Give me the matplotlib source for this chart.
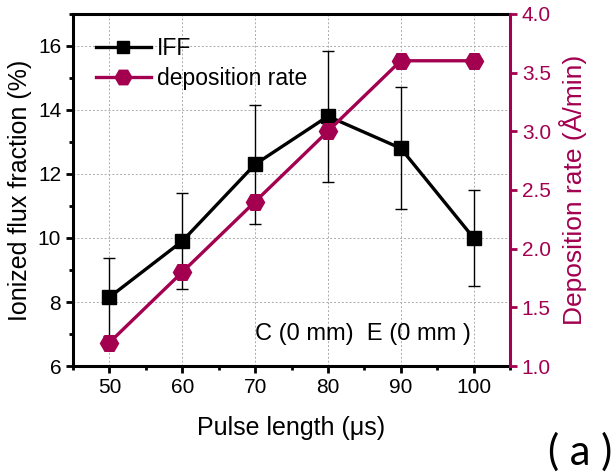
import matplotlib.pyplot as plt
from matplotlib.lines import Line2D
from matplotlib.ticker import MultipleLocator

plt.rcParams['font.family'] = ['Liberation Sans', 'DejaVu Sans']

pulse = [50, 60, 70, 80, 90, 100]
iff = [8.15, 9.9, 12.3, 13.8, 12.8, 10.0]
iff_err = [1.22, 1.5, 1.85, 2.05, 1.9, 1.5]
dep_rate = [1.2, 1.8, 2.4, 3.0, 3.6, 3.6]

crimson = '#A3004F'

fig = plt.figure(figsize=(6.16, 4.76), dpi=100)
ax = fig.add_axes([0.1185, 0.231, 0.7095, 0.74])
ax2 = ax.twinx()

ax.errorbar(pulse, iff, yerr=iff_err, color='black', lw=2.4, marker='s', ms=10,
            elinewidth=1.0, capsize=4, capthick=1.0, zorder=3)
ax2.plot(pulse, dep_rate, color=crimson, lw=2.4, marker='H', ms=13, zorder=2)

ax.set_xlim(45, 105)
ax.set_ylim(6, 17)
ax2.set_ylim(1.0, 4.0)
ax.xaxis.set_major_locator(MultipleLocator(10))
ax.xaxis.set_minor_locator(MultipleLocator(5))
ax.yaxis.set_major_locator(MultipleLocator(2))
ax.yaxis.set_minor_locator(MultipleLocator(1))
ax2.yaxis.set_major_locator(MultipleLocator(0.5))

ax.grid(True, which='major', ls=(0, (2, 2)), lw=0.7, color='#aaaaaa')
ax.set_axisbelow(True)

for s in ['left', 'bottom', 'top']:
    ax.spines[s].set_linewidth(2.2)
ax.spines['right'].set_visible(False)
for s in ['left', 'bottom', 'top']:
    ax2.spines[s].set_visible(False)
ax2.spines['right'].set_linewidth(2.2)
ax2.spines['right'].set_color(crimson)

ax.tick_params(which='major', direction='out', length=5, width=2, labelsize=15)
ax.tick_params(which='minor', direction='out', length=3, width=2)
ax2.tick_params(axis='y', which='major', direction='out', length=5, width=2,
                labelsize=15, colors=crimson)

ax.set_xlabel('Pulse length (μs)', fontsize=18, labelpad=14)
ax.set_ylabel('Ionized flux fraction (%)', fontsize=18, labelpad=4)
ax2.set_ylabel('Deposition rate (Å/min)', fontsize=19, color=crimson, labelpad=6)

ax.text(84.8, 6.99, 'C (0 mm)  E (0 mm )', fontsize=17, ha='center', va='center')

handles = [
    Line2D([], [], color='black', lw=2.4, marker='s', ms=9),
    Line2D([], [], color=crimson, lw=2.4, marker='H', ms=12),
]
ax.legend(handles, ['IFF', 'deposition rate'], loc='upper left', frameon=False,
          fontsize=16.5, handlelength=2.4, handletextpad=0.25, borderaxespad=0.6,
          borderpad=0.4, labelspacing=0.3)

fig.text(0.9415, 0.05, '( a )', fontsize=30, ha='center', va='center',
         family=['Lato', 'DejaVu Sans'])

fig.savefig('out.png', dpi=100)
